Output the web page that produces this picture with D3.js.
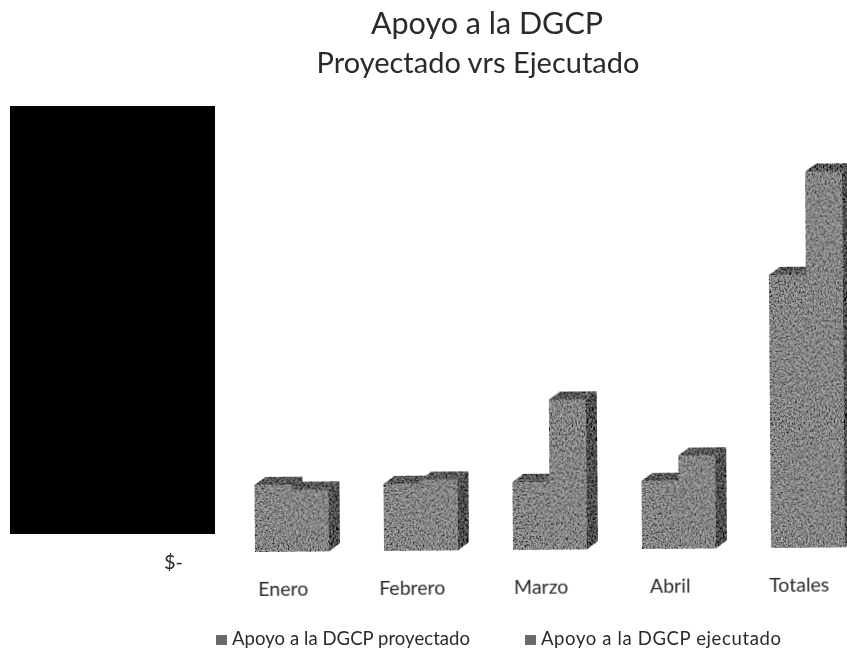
<!DOCTYPE html>
<html>
<head>
<meta charset="utf-8">
<script src="https://d3js.org/d3.v7.min.js"></script>
<style>
html, body { margin: 0; padding: 0; background: #fff; overflow: hidden; }
text { font-family: Lato, "Open Sans", sans-serif; fill: #2b2b2b; }
</style>
</head>
<body>
<div class="chart"></div>
<script>
// values, the axis numbers are hidden so the unit is relative
const categories = ['Enero', 'Febrero', 'Marzo', 'Abril', 'Totales'];
const proyectado = [67, 67, 68, 68, 273];
const ejecutado = [62, 71, 150, 93, 376];
const seriesNames = ['Apoyo a la DGCP proyectado', 'Apoyo a la DGCP ejecutado'];
const titleLines = ['Apoyo a la DGCP', 'Proyectado vrs Ejecutado'];

const width = 847, height = 654;
const baseY = 552, depthX = 11, depthY = 8;
const groupStep = 129, groupWidth = 74;

const svg = d3.select('.chart').append('svg')
    .attr('width', width)
    .attr('height', height);

// scanned look: grain on the bars, slight softness on the text
const defs = svg.append('defs');
const grain = defs.append('filter')
    .attr('id', 'grain')
    .attr('x', 0).attr('y', 0).attr('width', 1).attr('height', 1);
grain.append('feTurbulence')
    .attr('type', 'fractalNoise')
    .attr('baseFrequency', 0.6)
    .attr('numOctaves', 2)
    .attr('seed', 4)
    .attr('result', 'noise');
grain.append('feColorMatrix')
    .attr('in', 'noise')
    .attr('type', 'matrix')
    .attr('values', '1.6 1.6 0 0 -1.05  1.6 1.6 0 0 -1.05  1.6 1.6 0 0 -1.05  0 0 0 0 1')
    .attr('result', 'gray');
grain.append('feComposite')
    .attr('in', 'gray')
    .attr('in2', 'SourceGraphic')
    .attr('operator', 'arithmetic')
    .attr('k1', 0.55)
    .attr('k2', 0.32)
    .attr('k3', 0.72)
    .attr('k4', -0.16)
    .attr('result', 'mixed');
grain.append('feComposite')
    .attr('in', 'mixed')
    .attr('in2', 'SourceAlpha')
    .attr('operator', 'in');
defs.append('filter')
    .attr('id', 'soft')
    .append('feGaussianBlur')
    .attr('stdDeviation', 0.4);

const xScale = d3.scaleBand()
    .domain(categories)
    .range([255, 255 + groupStep * (categories.length - 1) + groupWidth])
    .paddingInner(1 - groupWidth / groupStep)
    .paddingOuter(0);

const subScale = d3.scaleBand()
    .domain([0, 1])
    .range([0, groupWidth]);

// relative units equal about one pixel of bar height
const yScale = d3.scaleLinear()
    .domain([0, 400])
    .range([baseY, baseY - 400]);

// the whole scanned chart leans a little
const plot = svg.append('g')
    .attr('transform', 'rotate(-0.45 255 552)');

const bars = plot.append('g').attr('filter', 'url(#grain)');

const rows = categories.flatMap((c, i) => [
    {cat: c, s: 0, v: proyectado[i]},
    {cat: c, s: 1, v: ejecutado[i]}
]);

const cell = bars.selectAll('g.bar')
    .data(rows)
    .join('g')
    .attr('class', 'bar');

function left(d) { return xScale(d.cat) + subScale(d.s); }
function right(d) { return left(d) + subScale.bandwidth(); }

// top face
cell.append('path')
    .attr('fill', '#4e4e4e')
    .attr('d', d => {
        const y = yScale(d.v);
        return `M${left(d)},${y}L${left(d) + depthX},${y - depthY}L${right(d) + depthX},${y - depthY}L${right(d)},${y}Z`;
    });

// side face
cell.append('path')
    .attr('fill', '#404040')
    .attr('d', d => {
        const y = yScale(d.v);
        return `M${right(d)},${y}L${right(d) + depthX},${y - depthY}L${right(d) + depthX},${baseY - depthY}L${right(d)},${baseY}Z`;
    });

// front face
cell.append('rect')
    .attr('fill', '#7f7f7f')
    .attr('x', d => left(d))
    .attr('y', d => yScale(d.v))
    .attr('width', subScale.bandwidth())
    .attr('height', d => baseY - yScale(d.v));

// category labels sit a bit left of the bars
const xAxis = d3.axisBottom(xScale).tickSize(0).tickPadding(0);
const xGroup = plot.append('g')
    .attr('filter', 'url(#soft)')
    .attr('transform', 'translate(-9,' + (baseY + 30) + ')')
    .call(xAxis);
xGroup.select('.domain').remove();
xGroup.selectAll('text').style('font-size', '19.5px');

// only the zero tick is still visible next to the hidden block
const yAxis = d3.axisLeft(yScale).tickValues([0]).tickFormat(() => '$-').tickSize(0).tickPadding(0);
const yGroup = svg.append('g')
    .attr('filter', 'url(#soft)')
    .attr('transform', 'translate(183,' + 10 + ')')
    .call(yAxis);
yGroup.select('.domain').remove();
yGroup.selectAll('text').style('font-size', '20px');

// blacked out part of the source
svg.append('rect')
    .attr('x', 10).attr('y', 106)
    .attr('width', 205).attr('height', 428)
    .attr('fill', '#000');

svg.append('g')
    .attr('filter', 'url(#soft)')
    .selectAll('text')
    .data(titleLines)
    .join('text')
    .attr('x', (d, i) => [487, 478][i])
    .attr('y', (d, i) => 34 + i * 39)
    .attr('text-anchor', 'middle')
    .style('font-size', (d, i) => ['30.5px', '29px'][i])
    .text(d => d);

const legend = svg.append('g')
    .attr('filter', 'url(#soft)')
    .selectAll('g')
    .data(seriesNames)
    .join('g')
    .attr('transform', (d, i) => 'translate(' + [216, 525][i] + ',645)');

legend.append('rect')
    .attr('x', 0).attr('y', -10)
    .attr('width', 11).attr('height', 10)
    .attr('fill', '#6a6a6a');

legend.append('text')
    .attr('x', 16)
    .attr('textLength', (d, i) => [238, 240][i])
    .attr('lengthAdjust', 'spacing')
    .style('font-size', '18.5px')
    .text(d => d);
</script>
</body>
</html>
